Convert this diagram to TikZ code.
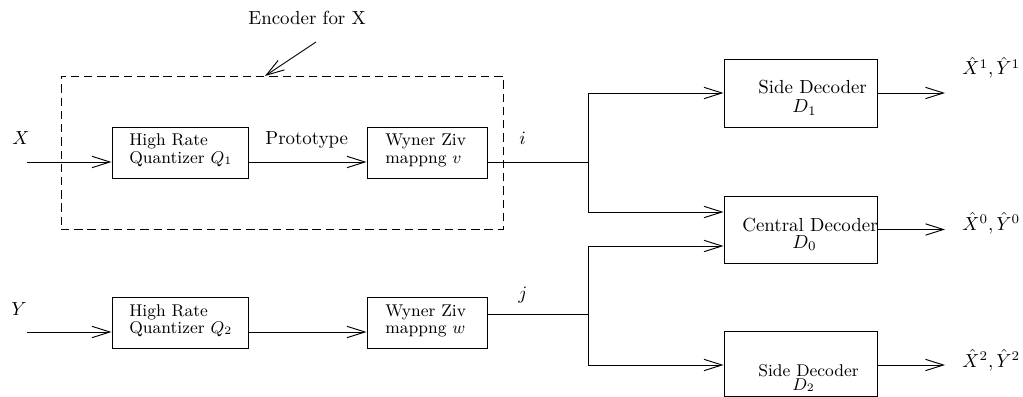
\documentclass[tikz,border=0pt]{standalone}
\usetikzlibrary{arrows.meta,fit}
\begin{document}
\begin{tikzpicture}[x=0.529pt,y=-0.529pt,
  blk/.style={draw, line width=0.5pt, inner sep=0pt, fit={#1}},
  encbox/.style={draw, line width=0.5pt, dash pattern=on 4.4pt off 2.6pt, inner sep=0pt, fit={#1}},
  tip/.style={line width=0.5pt, -{Straight Barb[length=9.5pt,width=6pt,line width=0.5pt]}},
  wire/.style={line width=0.5pt},
  lbl/.style={anchor=base west, inner sep=0pt},
  slbl/.style={anchor=base west, inner sep=0pt, font=\small}]
\useasboundingbox (0,0) rectangle (1023,397);

% boxes
\node[encbox={(61,76) (503,229)}] (enc) {};
\node[blk={(112,127) (248,178)}] (q1) {};
\node[blk={(367,127) (487,178)}] (wv) {};
\node[blk={(112,297) (248,348)}] (q2) {};
\node[blk={(367,297) (487,348)}] (ww) {};
\node[blk={(724,59) (877,127)}] (d1) {};
\node[blk={(724,196) (877,263)}] (d0) {};
\node[blk={(724,331) (877,396)}] (d2) {};

% box texts
\node[slbl] (q1a) at (129,146) {High Rate};
\node[slbl] (q1b) at (129,163) {Quantizer $Q_1$};
\node[slbl] (wva) at (385,146) {Wyner Ziv};
\node[slbl] (wvb) at (385,163) {mappng $v$};
\node[slbl] (q2a) at (129,316) {High Rate};
\node[slbl] (q2b) at (129,333) {Quantizer $Q_2$};
\node[slbl] (wwa) at (385,316) {Wyner Ziv};
\node[slbl] (wwb) at (385,333) {mappng $w$};
\node[lbl] (d1a) at (758,94) {Side Decoder};
\node[lbl] (d1b) at (792,113) {$D_1$};
\node[lbl] (d0a) at (742,231) {Central Decoder};
\node[lbl] (d0b) at (792,248) {$D_0$};
\node[slbl] (d2a) at (758,376) {Side Decoder};
\node[slbl] (d2b) at (792,390) {$D_2$};

% labels
\node[lbl] (enclbl) at (248,25) {Encoder for X};
\node[lbl] (proto) at (265,145) {Prototype};
\node[lbl] (xl) at (12,145) {$X$};
\node[lbl] (yl) at (11,315) {$Y$};
\node[lbl] (il) at (519,145) {$i$};
\node[lbl] (jl) at (518,299) {$j$};
\node[lbl] (o1l) at (962,75) {$\hat{X}^1,\hat{Y}^1$};
\node[lbl] (o0l) at (962,230) {$\hat{X}^0,\hat{Y}^0$};
\node[lbl] (o2l) at (962,367) {$\hat{X}^2,\hat{Y}^2$};

% coordinates
\coordinate (xin) at (27,162);
\coordinate (yin) at (27,332);
\coordinate (ij) at (588,162);
\coordinate (i0) at (588,212);
\coordinate (jj) at (588,314);
\coordinate (j0) at (588,246);
\coordinate (j2) at (588,365);
\coordinate (ox) at (945,0);
\coordinate (ea) at (316,42);
\coordinate (eb) at (265,76);

% connectors
\draw[tip] (ea) -- (eb);
\draw[tip] (xin) -- (xin -| q1.west);
\draw[tip] (xin -| q1.east) -- (xin -| wv.west);
\draw[wire] (xin -| wv.east) -- (ij);
\draw[tip] (ij) |- (d1.west);
\draw[tip] (ij) -- (i0) -- (i0 -| d0.west);
\draw[tip] (yin) -- (yin -| q2.west);
\draw[tip] (yin -| q2.east) -- (yin -| ww.west);
\draw[wire] (jj -| ww.east) -- (jj);
\draw[tip] (jj) -- (j0) -- (j0 -| d0.west);
\draw[tip] (jj) -- (j2) -- (j2 -| d2.west);
\draw[tip] (d1.east) -- (d1.east -| ox);
\draw[tip] (d0.east) -- (d0.east -| ox);
\draw[tip] (j2 -| d2.east) -- (j2 -| ox);
\end{tikzpicture}
\end{document}
